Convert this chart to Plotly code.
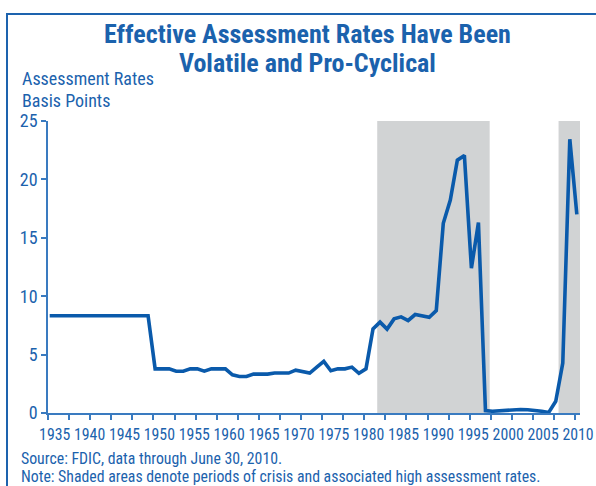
import plotly.graph_objects as go

# ---------------- data ----------------
years = list(range(1935, 2011))
rates = [
    # 1935-1949
    8.33, 8.33, 8.33, 8.33, 8.33, 8.33, 8.33, 8.33, 8.33, 8.33, 8.33, 8.33, 8.33, 8.33, 8.33,
    # 1950-1980
    3.78, 3.78, 3.78, 3.58, 3.58, 3.78, 3.78, 3.58, 3.78, 3.78, 3.78, 3.27, 3.13, 3.13, 3.33, 3.33,
    3.33, 3.42, 3.42, 3.42, 3.67, 3.55, 3.42, 3.92, 4.42, 3.62, 3.78, 3.78, 3.93, 3.40, 3.78,
    # 1981-1990
    7.20, 7.78, 7.18, 8.06, 8.23, 7.92, 8.43, 8.35, 8.20, 8.77,
    # 1991-2000
    16.24, 18.23, 21.65, 22.05, 12.40, 16.30, 0.20, 0.15, 0.20, 0.25,
    # 2001-2010
    0.28, 0.30, 0.28, 0.25, 0.15, 0.05, 1.00, 4.27, 23.44, 17.00,
]
crisis_start = [1981.6, 2007.4]
crisis_end = [1997.6, 2010.5]
label_years = list(range(1935, 2011, 5))

title_lines = ["Effective Assessment Rates Have Been", "Volatile and Pro-Cyclical"]
ytitle_lines = ["Assessment Rates", "Basis Points"]
source_lines = ["Source: FDIC, data through June 30, 2010.",
                "Note: Shaded areas denote periods of crisis and associated high assessment rates."]

# ---------------- style ----------------
W, H = 596, 486
L, R, T, B = 48, 16, 121, 73
PW, PH = W - L - R, H - T - B
FONT = "Liberation Sans Narrow, Arial Narrow, Roboto Condensed, DejaVu Sans Condensed, sans-serif"
BLUE_TXT = "#1b62ad"
BLUE_LINE = "#0a5aab"
BLUE_AXIS = "#3a7bc0"
SHADE = "#d1d3d4"

def px_x(px):
    return (px - L) / PW

def px_y(py):
    return (H - B - py) / PH

fig = go.Figure()

fig.add_trace(go.Scatter(
    x=years, y=rates, mode="lines",
    line=dict(color=BLUE_LINE, width=3.6),
    hoverinfo="skip", showlegend=False,
))
# empty helper trace so the year-label axis is drawn
fig.add_trace(go.Scatter(x=[], y=[], xaxis="x2", yaxis="y", mode="lines",
                         hoverinfo="skip", showlegend=False))

shapes = []
for s, e in zip(crisis_start, crisis_end):
    shapes.append(dict(type="rect", xref="x", yref="y", x0=s, x1=e, y0=0, y1=25,
                       fillcolor=SHADE, line=dict(width=0), layer="below"))
# outer frame (left and top edges visible)
shapes.append(dict(type="rect", xref="paper", yref="paper",
                   x0=px_x(7), x1=px_x(620), y0=px_y(520), y1=px_y(14),
                   line=dict(color="#1d63ae", width=2), fillcolor="rgba(0,0,0,0)"))

annotations = []
for i, t in enumerate(title_lines):
    annotations.append(dict(text="<b>" + t + "</b>", xref="paper", yref="paper",
                            x=px_x(307), y=px_y(34 + 29 * i), xanchor="center", yanchor="middle",
                            showarrow=False, font=dict(family=FONT, size=26, color=BLUE_TXT)))
for i, t in enumerate(ytitle_lines):
    annotations.append(dict(text=t, xref="paper", yref="paper",
                            x=px_x(20), y=px_y(78 + 22 * i), xanchor="left", yanchor="middle",
                            showarrow=False, font=dict(family=FONT, size=18, color=BLUE_TXT)))
for i, t in enumerate(source_lines):
    annotations.append(dict(text=t, xref="paper", yref="paper",
                            x=px_x(19), y=px_y(458.5 + 17.5 * i), xanchor="left", yanchor="middle",
                            showarrow=False, font=dict(family=FONT, size=15.8, color=BLUE_TXT)))

fig.update_layout(
    width=W, height=H, autosize=False,
    margin=dict(l=L, r=R, t=T, b=B, pad=0, autoexpand=False),
    paper_bgcolor="white", plot_bgcolor="white",
    shapes=shapes, annotations=annotations,
    showlegend=False,
    font=dict(family=FONT, color=BLUE_TXT),
    # main data axis: line + tick marks every 3 years, no labels
    xaxis=dict(
        range=[1934.76, 2010.45], automargin=False,
        tickmode="linear", tick0=1934.76, dtick=3,
        ticks="outside", ticklen=5, tickcolor=BLUE_AXIS, tickwidth=1.5,
        showticklabels=False,
        showline=True, linecolor=BLUE_AXIS, linewidth=1.5,
        showgrid=False, zeroline=False,
    ),
    # label axis: year labels as placed in the original
    xaxis2=dict(
        overlaying="x", anchor="y", side="bottom",
        range=[1934.04, 2010.29], automargin=False,
        tickmode="array", tickvals=label_years, ticktext=[str(v) for v in label_years],
        tickangle=0,
        ticks="outside", ticklen=7, tickcolor="rgba(0,0,0,0)",
        tickfont=dict(family=FONT, size=15.8, color=BLUE_TXT),
        showline=False, showgrid=False, zeroline=False,
    ),
    yaxis=dict(
        range=[0, 25], automargin=False, tickmode="linear", tick0=0, dtick=5,
        ticks="outside", ticklen=5, tickcolor=BLUE_AXIS, tickwidth=1.5,
        tickfont=dict(family=FONT, size=18, color=BLUE_TXT),
        showline=True, linecolor=BLUE_AXIS, linewidth=1.5,
        showgrid=False, zeroline=False,
    ),
)

fig.write_html(
    "out.html",
    config={"responsive": False, "displayModeBar": False},
    post_script="document.body.style.margin='0';document.body.style.padding='0';"
                "document.documentElement.style.overflow='hidden';",
)
